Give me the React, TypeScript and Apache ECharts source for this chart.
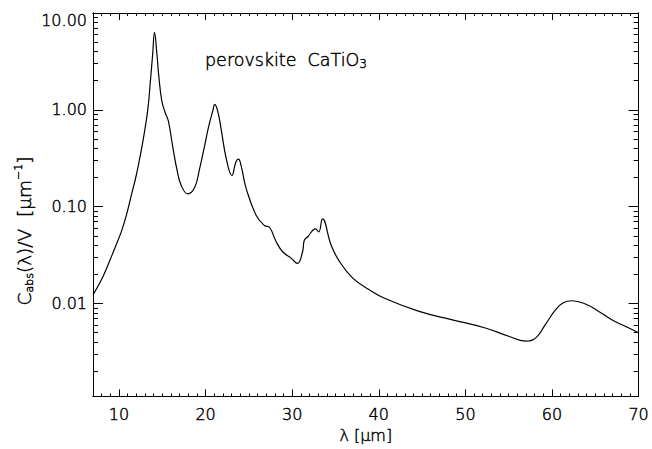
import React, { useEffect, useRef } from 'react';
import * as echarts from 'echarts';

// Wavelength lambda [micron]
const wavelength = [
  7.0, 7.96, 8.73, 9.5, 10.26, 10.84, 11.42, 11.99, 12.38, 12.87, 13.33, 13.64, 13.9, 14.1,
  14.37, 14.6, 14.95, 15.33, 15.7, 16.2, 16.7, 17.2, 17.94, 18.75, 19.3, 19.9, 20.28, 20.86,
  21.05, 21.4, 21.8, 22.4, 23.04, 23.5, 23.8, 24.1, 24.7, 25.85, 26.8, 27.4, 28.15, 28.9,
  29.9, 30.6, 31.2, 31.4, 31.8, 32.7, 33.06, 33.5, 34.5, 35.45, 37.0, 38.9, 40.8, 44.66,
  48.5, 52.3, 55.0, 56.95, 58.1, 59.25, 60.4, 61.3, 62.3, 63.86, 65.4, 66.9, 68.5, 70.0,
];
// C_abs(lambda)/V [micron^-1]
const cabsOverV = [
  0.0123, 0.0175, 0.025, 0.037, 0.055, 0.081, 0.131, 0.21, 0.31, 0.54, 1.01, 2.05, 3.86, 6.3,
  3.86, 2.22, 1.23, 0.94, 0.77, 0.42, 0.24, 0.165, 0.136, 0.159, 0.245, 0.43, 0.63, 1.0,
  1.14, 0.97, 0.63, 0.31, 0.21, 0.29, 0.31, 0.265, 0.153, 0.081, 0.064, 0.061, 0.0435, 0.0343,
  0.0293, 0.026, 0.0343, 0.045, 0.049, 0.059, 0.055, 0.075, 0.040, 0.0273, 0.0183, 0.0139, 0.0112, 0.0083,
  0.0068, 0.0056, 0.0046, 0.0041, 0.0044, 0.0061, 0.0086, 0.0102, 0.0107, 0.0099, 0.0083, 0.0068, 0.0058, 0.0050,
];

const xMajorTicks = [10, 20, 30, 40, 50, 60, 70];
const xMinorTicks = [
  8, 9, 11, 12, 13, 14, 15, 16, 17, 18, 19, 21, 22, 23, 24, 25, 26, 27, 28, 29,
  31, 32, 33, 34, 35, 36, 37, 38, 39, 41, 42, 43, 44, 45, 46, 47, 48, 49,
  51, 52, 53, 54, 55, 56, 57, 58, 59, 61, 62, 63, 64, 65, 66, 67, 68, 69,
];
const yMajorTicks = [0.01, 0.1, 1, 10];
const yMinorTicks = [
  0.002, 0.003, 0.004, 0.005, 0.006, 0.007, 0.008, 0.009,
  0.02, 0.03, 0.04, 0.05, 0.06, 0.07, 0.08, 0.09,
  0.2, 0.3, 0.4, 0.5, 0.6, 0.7, 0.8, 0.9,
  2, 3, 4, 5, 6, 7, 8, 9,
];

const X_MIN = 7;
const X_MAX = 70;
const Y_MIN = 0.0011;
const Y_MAX = 10;
const FONT = 'DejaVu Sans';
const WEIGHT = 200;
const BORDER = { textBorderColor: '#000', textBorderWidth: 0.45 };

const lineStyle = { color: '#000', width: 1 };

function xAxisDef(position: string, ticks: number[], len: number, labels: boolean) {
  return {
    type: 'value',
    min: X_MIN,
    max: X_MAX,
    position,
    axisLine: { show: true, onZero: false, lineStyle },
    axisTick: { show: true, inside: true, length: len, customValues: ticks, lineStyle },
    axisLabel: labels
      ? {
          show: true,
          customValues: ticks,
          margin: 10,
          color: '#000',
          fontFamily: FONT,
          fontWeight: WEIGHT,
          fontSize: 16,
          ...BORDER,
        }
      : { show: false },
    splitLine: { show: false },
    name: labels ? 'λ [μm]' : '',
    nameLocation: 'middle',
    nameGap: 31,
    nameTextStyle: { color: '#000', fontFamily: FONT, fontWeight: WEIGHT, fontSize: 16, ...BORDER },
  };
}

function yAxisDef(position: string, ticks: number[], len: number, labels: boolean) {
  return {
    type: 'log',
    logBase: 10,
    min: Y_MIN,
    max: Y_MAX,
    position,
    axisLine: { show: true, onZero: false, lineStyle },
    axisTick: { show: true, inside: true, length: len, customValues: ticks, lineStyle },
    axisLabel: labels
      ? {
          show: true,
          customValues: ticks,
          margin: 6,
          color: '#000',
          fontFamily: FONT,
          fontWeight: WEIGHT,
          fontSize: 16,
          ...BORDER,
          formatter: (v: number) => (v >= 10 ? `{t|${v.toFixed(2)}}` : v.toFixed(2)),
          rich: {
            t: {
              fontFamily: FONT,
              fontWeight: WEIGHT,
              fontSize: 16,
              color: '#000',
              padding: [14, 0, 0, 0],
              ...BORDER,
            },
          },
        }
      : { show: false },
    splitLine: { show: false },
  };
}

export default function App() {
  const ref = useRef<HTMLDivElement>(null);

  useEffect(() => {
    document.body.style.margin = '0';
    if (!ref.current) return;
    const chart = echarts.init(ref.current, undefined, { renderer: 'svg' });
    const data = wavelength.map((x, i) => [x, cabsOverV[i]]);

    const txt = (size: number, va: string, lh: number) => ({
      fontFamily: FONT,
      fontWeight: WEIGHT,
      fontSize: size,
      fill: '#000',
      stroke: '#000',
      lineWidth: 0.45,
      lineHeight: lh,
      verticalAlign: va,
    });

    chart.setOption({
      animation: false,
      backgroundColor: '#fff',
      grid: { left: 93, right: 12, top: 13, bottom: 50, containLabel: false },
      xAxis: [
        xAxisDef('bottom', xMajorTicks, 7, true),
        xAxisDef('bottom', xMinorTicks, 3, false),
        xAxisDef('top', xMajorTicks, 7, false),
        xAxisDef('top', xMinorTicks, 3, false),
      ],
      yAxis: [
        yAxisDef('left', yMajorTicks, 10, true),
        yAxisDef('left', yMinorTicks, 5, false),
        yAxisDef('right', yMajorTicks, 10, false),
        yAxisDef('right', yMinorTicks, 5, false),
      ],
      graphic: [
        {
          type: 'text',
          x: 205,
          y: 60,
          style: {
            text: '{a|perovskite  CaTiO}{b|3}',
            verticalAlign: 'middle',
            align: 'left',
            rich: {
              a: txt(17.5, 'middle', 20),
              b: txt(12, 'bottom', 11),
            },
          },
        },
        {
          type: 'text',
          x: 24,
          y: 231,
          rotation: Math.PI / 2,
          style: {
            text: '{a|C}{s|abs}{a|(λ)/V  [μm}{p|−1}{a|]}',
            verticalAlign: 'middle',
            align: 'center',
            rich: {
              a: txt(18.5, 'middle', 22),
              s: txt(11, 'bottom', 11),
              p: txt(11, 'top', 11),
            },
          },
        },
      ],
      series: [
        {
          type: 'line',
          xAxisIndex: 0,
          yAxisIndex: 0,
          data,
          showSymbol: false,
          smooth: 0.45,
          lineStyle: { color: '#000', width: 1.2 },
        },
      ],
    });

    return () => chart.dispose();
  }, []);

  return <div ref={ref} style={{ width: 652, height: 449 }} />;
}
